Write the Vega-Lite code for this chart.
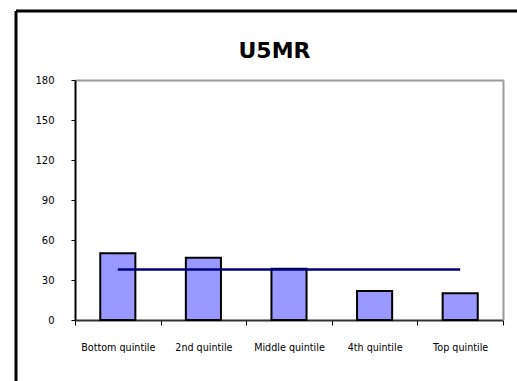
{
  "$schema": "https://vega.github.io/schema/vega-lite/v6.json",
  "autosize": {"type": "none"},
  "padding": {"left": 16, "top": 11, "right": 0, "bottom": 0},
  "width": 501,
  "height": 370,
  "background": "white",
  "title": {
    "text": "U5MR",
    "font": "DejaVu Sans",
    "fontSize": 22,
    "fontWeight": "bold",
    "color": "black",
    "anchor": "middle",
    "frame": "group",
    "baseline": "alphabetic",
    "offset": -69,
    "dx": 8
  },
  "data": {
    "values": [
      {"quintile": "Bottom quintile", "u5mr": 50.0, "national": 37.8},
      {"quintile": "2nd quintile", "u5mr": 46.7, "national": 37.8},
      {"quintile": "Middle quintile", "u5mr": 38.5, "national": 37.8},
      {"quintile": "4th quintile", "u5mr": 21.8, "national": 37.8},
      {"quintile": "Top quintile", "u5mr": 20.0, "national": 37.8}
    ]
  },
  "layer": [
    {
      "mark": {"type": "bar", "fill": "#9999FF", "stroke": "black", "strokeWidth": 2, "width": {"band": 0.41}},
      "encoding": {
        "x": {
          "field": "quintile",
          "type": "nominal",
          "sort": null,
          "scale": {"type": "band", "range": [59, 487], "padding": 0},
          "axis": {
            "orient": "bottom",
            "offset": -61,
            "title": null,
            "labelAngle": 0,
            "labelFont": "DejaVu Sans",
            "labelFontSize": 9.6,
            "labelColor": "black",
            "labelPadding": 17,
            "tickBand": "extent",
            "tickSize": 5,
            "tickColor": "black",
            "domainColor": "#333333",
            "domainWidth": 2,
            "grid": false
          }
        },
        "y": {
          "field": "u5mr",
          "type": "quantitative",
          "scale": {"domain": [0, 180], "range": [309, 69], "nice": false},
          "axis": {
            "orient": "left",
            "offset": -59,
            "title": null,
            "values": [0, 30, 60, 90, 120, 150, 180],
            "labelFont": "DejaVu Sans",
            "labelFontSize": 10,
            "labelColor": "black",
            "labelPadding": 17,
            "tickSize": 4,
            "tickColor": "black",
            "domainColor": "black",
            "domainWidth": 2,
            "grid": false
          }
        }
      }
    },
    {
      "mark": {"type": "line", "color": "#000080", "strokeWidth": 2.5},
      "encoding": {
        "x": {
          "field": "quintile",
          "type": "nominal",
          "sort": null,
          "axis": {
            "orient": "top",
            "offset": -69,
            "title": null,
            "labels": false,
            "ticks": false,
            "domainColor": "#999999",
            "domainWidth": 2,
            "grid": false
          }
        },
        "y": {
          "field": "national",
          "type": "quantitative",
          "axis": {
            "orient": "right",
            "offset": -14,
            "title": null,
            "labels": false,
            "ticks": false,
            "domainColor": "#999999",
            "domainWidth": 2,
            "grid": false
          }
        }
      }
    }
  ],
  "resolve": {"axis": {"x": "independent", "y": "independent"}},
  "config": {
    "view": {
      "stroke": "black",
      "strokeWidth": 3,
      "strokeDash": [501, 871, 370, 0]
    }
  }
}
